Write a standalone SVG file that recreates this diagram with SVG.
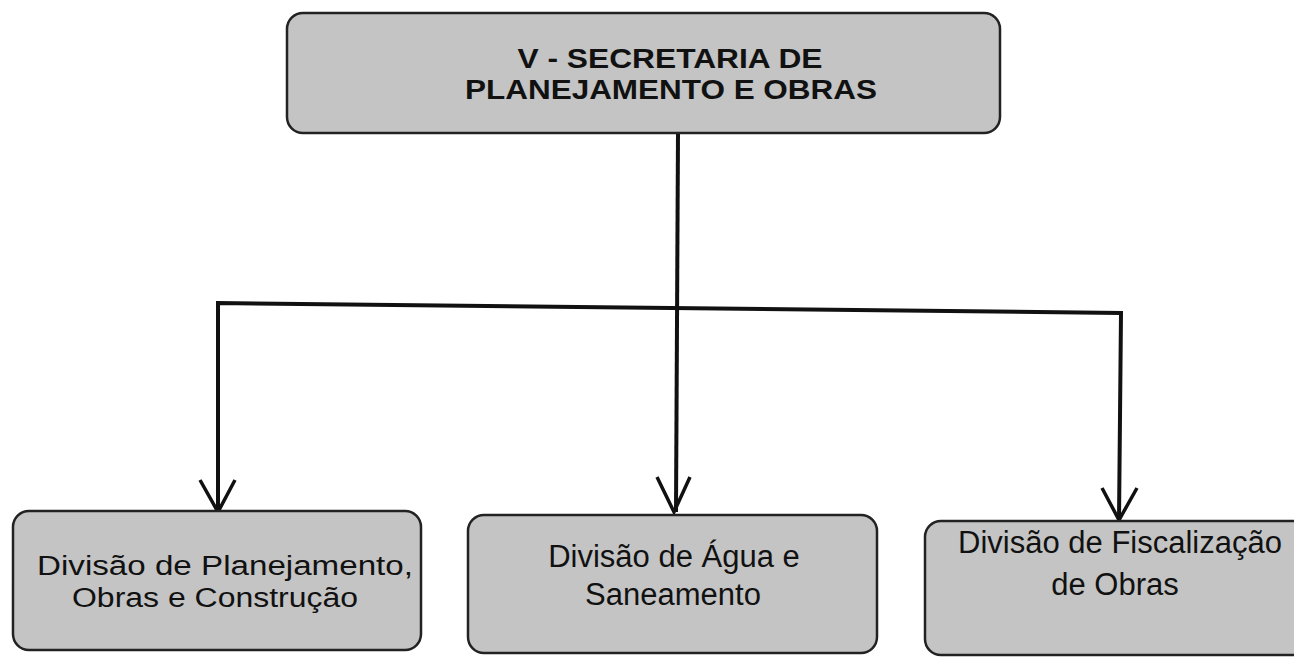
<svg xmlns="http://www.w3.org/2000/svg" width="1294" height="657" viewBox="0 0 1294 657">
<style>
.box{fill:#c4c4c4;stroke:#222;stroke-width:2.5}
.t{font-family:"Liberation Sans",Arial,sans-serif;font-size:31px;fill:#111;text-anchor:middle}
.ts{font-family:"Liberation Sans",Arial,sans-serif;font-size:27px;fill:#111;text-anchor:middle}
.tb{font-family:"Liberation Sans",Arial,sans-serif;font-size:27px;font-weight:bold;fill:#111;text-anchor:middle}
.c{fill:none;stroke:#111;stroke-width:4;stroke-linejoin:miter}
.ah{fill:none;stroke:#111;stroke-width:3.5;stroke-linejoin:miter}
</style>
<rect width="1294" height="657" fill="#fff"/>
<g id="connectors">
<polyline class="c" points="678,133 676,512"/>
<polyline class="c" points="218,512 218,303 1121,313 1119,520"/>
<polyline class="ah" points="200,480 218,512 235,480"/>
<polyline class="ah" points="657,477 674,512 690,477"/>
<polyline class="ah" points="1102,488 1119,520 1137,488"/>
</g>
<g id="top">
<rect class="box" x="287" y="13" width="713" height="120" rx="16"/>
<text class="tb" x="670" y="68" textLength="305" lengthAdjust="spacingAndGlyphs">V - SECRETARIA DE</text>
<text class="tb" x="671" y="99" textLength="412" lengthAdjust="spacingAndGlyphs">PLANEJAMENTO E OBRAS</text>
</g>
<g id="div1">
<rect class="box" x="13" y="511" width="408" height="139" rx="16"/>
<text class="ts" x="225" y="575" textLength="376" lengthAdjust="spacingAndGlyphs">Divisão de Planejamento,</text>
<text class="ts" x="215" y="607" textLength="286" lengthAdjust="spacingAndGlyphs">Obras e Construção</text>
</g>
<g id="div2">
<rect class="box" x="468" y="515" width="409" height="138" rx="16"/>
<text class="t" x="674" y="567">Divisão de Água e</text>
<text class="t" x="673" y="605">Saneamento</text>
</g>
<g id="div3">
<rect class="box" x="925" y="521" width="385" height="134" rx="16"/>
<text class="t" x="1120" y="553">Divisão de Fiscalização</text>
<text class="t" x="1115" y="595">de Obras</text>
</g>
</svg>
